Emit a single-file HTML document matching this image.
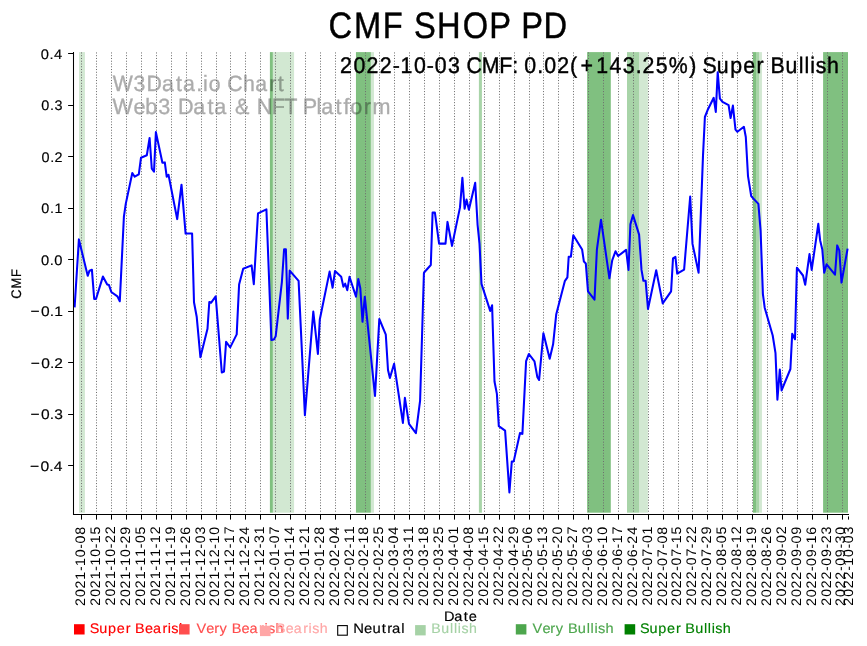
<!DOCTYPE html><html><head><meta charset="utf-8"><style>html,body{margin:0;padding:0;background:#fff;width:867px;height:646px;overflow:hidden}svg{display:block;font-family:"Liberation Sans",sans-serif;text-rendering:geometricPrecision;-webkit-font-smoothing:antialiased;will-change:transform}</style></head><body>
<svg width="867" height="646" viewBox="0 0 867 646">
<rect x="79.00" y="52.1" width="5.95" height="460.60" fill="#d2e8d2"/>
<rect x="269.90" y="52.1" width="3.00" height="460.60" fill="#80c080"/>
<rect x="272.90" y="52.1" width="21.20" height="460.60" fill="#d2e8d2"/>
<rect x="355.95" y="52.1" width="14.95" height="460.60" fill="#80c080"/>
<rect x="370.90" y="52.1" width="3.05" height="460.60" fill="#d2e8d2"/>
<rect x="478.90" y="52.1" width="3.00" height="460.60" fill="#a8d4a8"/>
<rect x="587.10" y="52.1" width="23.70" height="460.60" fill="#80c080"/>
<rect x="627.00" y="52.1" width="12.00" height="460.60" fill="#a8d4a8"/>
<rect x="639.00" y="52.1" width="8.90" height="460.60" fill="#d2e8d2"/>
<rect x="753.00" y="52.1" width="3.00" height="460.60" fill="#80c080"/>
<rect x="756.00" y="52.1" width="3.00" height="460.60" fill="#a8d4a8"/>
<rect x="759.00" y="52.1" width="2.95" height="460.60" fill="#d2e8d2"/>
<rect x="823.10" y="52.1" width="24.90" height="460.60" fill="#80c080"/>
<g opacity="0.33">
<text transform="translate(112.37 90.90) scale(0.963 1)" x="0.27 22.07 35.56 51.49 66.16 73.22 87.14 94.24 100.17 112.88 119.21 135.59 148.26 163.02 171.82" y="0" font-size="22.07" fill="#000"  stroke="#000" stroke-width="0.42">W3Data.io Chart</text>
<text transform="translate(112.37 114.00) scale(0.978 1)" x="0.11 21.58 33.63 47.00 59.96 67.02 82.73 97.23 104.12 117.56 125.39 140.93 147.74 163.05 175.63 188.50 194.73 208.66 213.63 228.13 236.32 243.34 257.07 265.91" y="0" font-size="22.07" fill="#000"  stroke="#000" stroke-width="0.42">Web3 Data &amp; NFT Platform</text>
</g>
<line x1="81.50" y1="52.1" x2="81.50" y2="513.5" stroke="#6e6e6e" stroke-width="1" stroke-dasharray="1.0417 1.7187" stroke-dashoffset="-0.33"/>
<line x1="96.50" y1="52.1" x2="96.50" y2="513.5" stroke="#6e6e6e" stroke-width="1" stroke-dasharray="1.0417 1.7187" stroke-dashoffset="-0.33"/>
<line x1="111.50" y1="52.1" x2="111.50" y2="513.5" stroke="#6e6e6e" stroke-width="1" stroke-dasharray="1.0417 1.7187" stroke-dashoffset="-0.33"/>
<line x1="126.50" y1="52.1" x2="126.50" y2="513.5" stroke="#6e6e6e" stroke-width="1" stroke-dasharray="1.0417 1.7187" stroke-dashoffset="-0.33"/>
<line x1="141.50" y1="52.1" x2="141.50" y2="513.5" stroke="#6e6e6e" stroke-width="1" stroke-dasharray="1.0417 1.7187" stroke-dashoffset="-0.33"/>
<line x1="156.50" y1="52.1" x2="156.50" y2="513.5" stroke="#6e6e6e" stroke-width="1" stroke-dasharray="1.0417 1.7187" stroke-dashoffset="-0.33"/>
<line x1="171.50" y1="52.1" x2="171.50" y2="513.5" stroke="#6e6e6e" stroke-width="1" stroke-dasharray="1.0417 1.7187" stroke-dashoffset="-0.33"/>
<line x1="186.50" y1="52.1" x2="186.50" y2="513.5" stroke="#6e6e6e" stroke-width="1" stroke-dasharray="1.0417 1.7187" stroke-dashoffset="-0.33"/>
<line x1="201.50" y1="52.1" x2="201.50" y2="513.5" stroke="#6e6e6e" stroke-width="1" stroke-dasharray="1.0417 1.7187" stroke-dashoffset="-0.33"/>
<line x1="216.50" y1="52.1" x2="216.50" y2="513.5" stroke="#6e6e6e" stroke-width="1" stroke-dasharray="1.0417 1.7187" stroke-dashoffset="-0.33"/>
<line x1="230.50" y1="52.1" x2="230.50" y2="513.5" stroke="#6e6e6e" stroke-width="1" stroke-dasharray="1.0417 1.7187" stroke-dashoffset="-0.33"/>
<line x1="245.50" y1="52.1" x2="245.50" y2="513.5" stroke="#6e6e6e" stroke-width="1" stroke-dasharray="1.0417 1.7187" stroke-dashoffset="-0.33"/>
<line x1="260.50" y1="52.1" x2="260.50" y2="513.5" stroke="#6e6e6e" stroke-width="1" stroke-dasharray="1.0417 1.7187" stroke-dashoffset="-0.33"/>
<line x1="275.50" y1="52.1" x2="275.50" y2="513.5" stroke="#6e6e6e" stroke-width="1" stroke-dasharray="1.0417 1.7187" stroke-dashoffset="-0.33"/>
<line x1="290.50" y1="52.1" x2="290.50" y2="513.5" stroke="#6e6e6e" stroke-width="1" stroke-dasharray="1.0417 1.7187" stroke-dashoffset="-0.33"/>
<line x1="305.50" y1="52.1" x2="305.50" y2="513.5" stroke="#6e6e6e" stroke-width="1" stroke-dasharray="1.0417 1.7187" stroke-dashoffset="-0.33"/>
<line x1="320.50" y1="52.1" x2="320.50" y2="513.5" stroke="#6e6e6e" stroke-width="1" stroke-dasharray="1.0417 1.7187" stroke-dashoffset="-0.33"/>
<line x1="335.50" y1="52.1" x2="335.50" y2="513.5" stroke="#6e6e6e" stroke-width="1" stroke-dasharray="1.0417 1.7187" stroke-dashoffset="-0.33"/>
<line x1="350.50" y1="52.1" x2="350.50" y2="513.5" stroke="#6e6e6e" stroke-width="1" stroke-dasharray="1.0417 1.7187" stroke-dashoffset="-0.33"/>
<line x1="365.50" y1="52.1" x2="365.50" y2="513.5" stroke="#6e6e6e" stroke-width="1" stroke-dasharray="1.0417 1.7187" stroke-dashoffset="-0.33"/>
<line x1="379.50" y1="52.1" x2="379.50" y2="513.5" stroke="#6e6e6e" stroke-width="1" stroke-dasharray="1.0417 1.7187" stroke-dashoffset="-0.33"/>
<line x1="394.50" y1="52.1" x2="394.50" y2="513.5" stroke="#6e6e6e" stroke-width="1" stroke-dasharray="1.0417 1.7187" stroke-dashoffset="-0.33"/>
<line x1="409.50" y1="52.1" x2="409.50" y2="513.5" stroke="#6e6e6e" stroke-width="1" stroke-dasharray="1.0417 1.7187" stroke-dashoffset="-0.33"/>
<line x1="424.50" y1="52.1" x2="424.50" y2="513.5" stroke="#6e6e6e" stroke-width="1" stroke-dasharray="1.0417 1.7187" stroke-dashoffset="-0.33"/>
<line x1="439.50" y1="52.1" x2="439.50" y2="513.5" stroke="#6e6e6e" stroke-width="1" stroke-dasharray="1.0417 1.7187" stroke-dashoffset="-0.33"/>
<line x1="454.50" y1="52.1" x2="454.50" y2="513.5" stroke="#6e6e6e" stroke-width="1" stroke-dasharray="1.0417 1.7187" stroke-dashoffset="-0.33"/>
<line x1="469.50" y1="52.1" x2="469.50" y2="513.5" stroke="#6e6e6e" stroke-width="1" stroke-dasharray="1.0417 1.7187" stroke-dashoffset="-0.33"/>
<line x1="484.50" y1="52.1" x2="484.50" y2="513.5" stroke="#6e6e6e" stroke-width="1" stroke-dasharray="1.0417 1.7187" stroke-dashoffset="-0.33"/>
<line x1="499.50" y1="52.1" x2="499.50" y2="513.5" stroke="#6e6e6e" stroke-width="1" stroke-dasharray="1.0417 1.7187" stroke-dashoffset="-0.33"/>
<line x1="514.50" y1="52.1" x2="514.50" y2="513.5" stroke="#6e6e6e" stroke-width="1" stroke-dasharray="1.0417 1.7187" stroke-dashoffset="-0.33"/>
<line x1="529.50" y1="52.1" x2="529.50" y2="513.5" stroke="#6e6e6e" stroke-width="1" stroke-dasharray="1.0417 1.7187" stroke-dashoffset="-0.33"/>
<line x1="543.50" y1="52.1" x2="543.50" y2="513.5" stroke="#6e6e6e" stroke-width="1" stroke-dasharray="1.0417 1.7187" stroke-dashoffset="-0.33"/>
<line x1="558.50" y1="52.1" x2="558.50" y2="513.5" stroke="#6e6e6e" stroke-width="1" stroke-dasharray="1.0417 1.7187" stroke-dashoffset="-0.33"/>
<line x1="573.50" y1="52.1" x2="573.50" y2="513.5" stroke="#6e6e6e" stroke-width="1" stroke-dasharray="1.0417 1.7187" stroke-dashoffset="-0.33"/>
<line x1="588.50" y1="52.1" x2="588.50" y2="513.5" stroke="#6e6e6e" stroke-width="1" stroke-dasharray="1.0417 1.7187" stroke-dashoffset="-0.33"/>
<line x1="603.50" y1="52.1" x2="603.50" y2="513.5" stroke="#6e6e6e" stroke-width="1" stroke-dasharray="1.0417 1.7187" stroke-dashoffset="-0.33"/>
<line x1="618.50" y1="52.1" x2="618.50" y2="513.5" stroke="#6e6e6e" stroke-width="1" stroke-dasharray="1.0417 1.7187" stroke-dashoffset="-0.33"/>
<line x1="633.50" y1="52.1" x2="633.50" y2="513.5" stroke="#6e6e6e" stroke-width="1" stroke-dasharray="1.0417 1.7187" stroke-dashoffset="-0.33"/>
<line x1="648.50" y1="52.1" x2="648.50" y2="513.5" stroke="#6e6e6e" stroke-width="1" stroke-dasharray="1.0417 1.7187" stroke-dashoffset="-0.33"/>
<line x1="663.50" y1="52.1" x2="663.50" y2="513.5" stroke="#6e6e6e" stroke-width="1" stroke-dasharray="1.0417 1.7187" stroke-dashoffset="-0.33"/>
<line x1="678.50" y1="52.1" x2="678.50" y2="513.5" stroke="#6e6e6e" stroke-width="1" stroke-dasharray="1.0417 1.7187" stroke-dashoffset="-0.33"/>
<line x1="692.50" y1="52.1" x2="692.50" y2="513.5" stroke="#6e6e6e" stroke-width="1" stroke-dasharray="1.0417 1.7187" stroke-dashoffset="-0.33"/>
<line x1="707.50" y1="52.1" x2="707.50" y2="513.5" stroke="#6e6e6e" stroke-width="1" stroke-dasharray="1.0417 1.7187" stroke-dashoffset="-0.33"/>
<line x1="722.50" y1="52.1" x2="722.50" y2="513.5" stroke="#6e6e6e" stroke-width="1" stroke-dasharray="1.0417 1.7187" stroke-dashoffset="-0.33"/>
<line x1="737.50" y1="52.1" x2="737.50" y2="513.5" stroke="#6e6e6e" stroke-width="1" stroke-dasharray="1.0417 1.7187" stroke-dashoffset="-0.33"/>
<line x1="752.50" y1="52.1" x2="752.50" y2="513.5" stroke="#6e6e6e" stroke-width="1" stroke-dasharray="1.0417 1.7187" stroke-dashoffset="-0.33"/>
<line x1="767.50" y1="52.1" x2="767.50" y2="513.5" stroke="#6e6e6e" stroke-width="1" stroke-dasharray="1.0417 1.7187" stroke-dashoffset="-0.33"/>
<line x1="782.50" y1="52.1" x2="782.50" y2="513.5" stroke="#6e6e6e" stroke-width="1" stroke-dasharray="1.0417 1.7187" stroke-dashoffset="-0.33"/>
<line x1="797.50" y1="52.1" x2="797.50" y2="513.5" stroke="#6e6e6e" stroke-width="1" stroke-dasharray="1.0417 1.7187" stroke-dashoffset="-0.33"/>
<line x1="812.50" y1="52.1" x2="812.50" y2="513.5" stroke="#6e6e6e" stroke-width="1" stroke-dasharray="1.0417 1.7187" stroke-dashoffset="-0.33"/>
<line x1="827.50" y1="52.1" x2="827.50" y2="513.5" stroke="#6e6e6e" stroke-width="1" stroke-dasharray="1.0417 1.7187" stroke-dashoffset="-0.33"/>
<line x1="842.50" y1="52.1" x2="842.50" y2="513.5" stroke="#6e6e6e" stroke-width="1" stroke-dasharray="1.0417 1.7187" stroke-dashoffset="-0.33"/>
<text transform="translate(339.54 72.90) scale(0.942 1)" x="0.46 14.75 28.59 42.65 56.50 64.85 78.97 92.60 101.01 115.08 128.45 134.90 151.08 169.48 183.29 188.43 196.14 209.89 217.23 231.07 244.68 255.90 272.43 286.67 300.62 314.37 321.49 335.72 349.58 371.30 378.78 385.41 400.52 414.69 428.50 442.70 450.56 457.63 473.43 487.36 493.51 499.65 505.44 517.43" y="0" font-size="22.62" fill="#000"  stroke="#000" stroke-width="0.42">2022-10-03 CMF: 0.02(+143.25%) Super Bullish</text>
<path d="M74.6 307.4 L78.9 239.4 L87.7 275.8 L89.5 270.6 L91.9 269.7 L94.2 299.0 L96.0 299.0 L102.9 276.6 L107.2 284.6 L109.0 285.1 L111.3 292.0 L117.4 296.3 L119.8 301.3 L123.9 216.7 L125.8 203.6 L132.3 173.0 L134.7 176.7 L138.8 174.3 L141.0 157.7 L146.8 155.3 L149.6 138.0 L151.8 168.7 L154.0 171.7 L155.9 132.1 L162.4 162.8 L164.8 162.4 L166.7 176.7 L168.5 174.8 L177.2 219.1 L181.5 184.7 L185.6 233.6 L192.1 233.5 L194.0 302.2 L196.7 316.7 L200.4 357.2 L207.5 328.8 L209.3 302.0 L211.0 302.8 L215.7 296.3 L221.8 372.5 L224.0 371.6 L226.1 341.8 L230.2 347.4 L236.7 334.4 L239.1 284.6 L243.2 268.8 L251.6 265.4 L253.8 284.2 L258.0 213.4 L266.4 209.3 L271.4 340.0 L273.9 339.4 L275.7 336.2 L281.9 281.8 L284.1 249.3 L285.9 249.3 L287.8 318.6 L289.7 270.6 L298.6 280.9 L304.9 415.2 L313.3 311.5 L317.9 353.9 L319.8 319.5 L329.6 271.6 L332.6 287.7 L335.0 271.1 L341.2 276.8 L343.4 286.8 L345.2 283.7 L347.3 290.2 L349.5 276.8 L356.0 296.7 L358.3 279.0 L360.3 288.3 L362.5 321.8 L364.8 296.7 L375.0 396.0 L378.7 330.0 L379.3 319.0 L385.8 334.7 L388.0 370.0 L389.9 378.0 L394.1 363.8 L402.9 422.9 L404.9 397.8 L409.0 423.9 L415.9 433.2 L420.1 400.6 L423.9 273.5 L424.1 272.5 L430.8 265.0 L432.6 212.6 L434.9 212.6 L439.1 243.6 L445.5 243.6 L447.5 221.9 L452.0 245.9 L460.0 207.4 L462.4 177.7 L464.6 208.7 L466.5 199.6 L468.9 209.8 L475.2 182.7 L477.6 225.0 L479.5 243.6 L481.5 283.9 L490.2 310.9 L492.1 305.3 L494.5 381.5 L496.9 393.9 L498.8 426.1 L505.1 430.6 L509.4 492.5 L511.8 461.4 L513.7 461.4 L520.0 433.0 L522.4 433.9 L526.1 361.1 L528.9 354.0 L534.5 361.4 L537.3 376.9 L539.1 380.0 L543.4 333.2 L549.7 358.8 L553.1 344.3 L556.2 314.6 L564.8 281.2 L567.4 277.4 L568.7 256.7 L570.9 256.7 L573.3 235.3 L582.1 249.5 L583.9 261.6 L585.8 263.4 L588.0 291.3 L594.5 299.7 L596.9 249.5 L601.0 219.7 L609.4 278.3 L612.2 260.3 L615.5 251.3 L618.1 256.0 L626.1 249.9 L628.5 269.9 L630.4 224.4 L633.0 215.1 L639.1 234.6 L641.5 269.9 L643.4 280.7 L645.6 280.7 L648.0 309.0 L656.2 270.3 L662.7 303.4 L671.1 291.3 L673.0 258.4 L675.4 256.9 L677.2 273.6 L684.1 269.6 L690.2 196.5 L692.5 243.9 L698.6 272.7 L703.0 155.6 L704.9 117.0 L708.0 109.2 L713.7 97.8 L715.8 111.9 L717.7 72.2 L719.9 98.7 L722.5 101.9 L728.6 105.2 L730.6 118.0 L732.9 105.6 L735.5 129.6 L737.4 131.8 L743.9 126.8 L745.8 137.0 L748.0 176.1 L751.2 196.0 L753.2 198.4 L758.4 203.9 L760.6 230.9 L762.9 294.1 L764.7 307.7 L772.7 335.5 L775.5 353.2 L777.4 399.7 L779.8 369.6 L781.6 390.4 L790.4 369.0 L792.2 333.7 L795.0 339.3 L796.9 267.7 L803.0 275.5 L805.2 284.8 L809.5 254.1 L811.7 269.9 L818.3 223.8 L820.1 240.2 L822.3 249.5 L824.2 272.7 L826.6 264.3 L835.0 274.6 L837.2 245.4 L839.3 250.4 L841.5 282.6 L847.6 248.6" fill="none" stroke="#0000ff" stroke-width="2.05" stroke-linejoin="round" stroke-linecap="butt"/>
<line x1="73.5" y1="52.0" x2="73.5" y2="515.0" stroke="#000" stroke-width="1.05"/>
<line x1="73.0" y1="514.5" x2="849.0" y2="514.5" stroke="#000" stroke-width="1.05"/>
<line x1="68.1" y1="465.50" x2="73.5" y2="465.50" stroke="#000" stroke-width="1.05"/>
<text transform="translate(28.85 470.67) scale(1.132 1)" x="1.07 10.30 18.11 22.08" y="0" font-size="13.83" fill="#000"  stroke="#000" stroke-width="0.18">−0.4</text>
<line x1="68.1" y1="414.50" x2="73.5" y2="414.50" stroke="#000" stroke-width="1.05"/>
<text transform="translate(29.20 419.20) scale(1.122 1)" x="1.12 10.43 18.30 22.25" y="0" font-size="13.83" fill="#000"  stroke="#000" stroke-width="0.18">−0.3</text>
<line x1="68.1" y1="362.50" x2="73.5" y2="362.50" stroke="#000" stroke-width="1.05"/>
<text transform="translate(29.48 367.72) scale(1.123 1)" x="1.12 10.41 18.27 22.09" y="0" font-size="13.83" fill="#000"  stroke="#000" stroke-width="0.18">−0.2</text>
<line x1="68.1" y1="311.50" x2="73.5" y2="311.50" stroke="#000" stroke-width="1.05"/>
<text transform="translate(29.34 316.25) scale(1.122 1)" x="1.12 10.44 18.31 22.20" y="0" font-size="13.83" fill="#000"  stroke="#000" stroke-width="0.18">−0.1</text>
<line x1="68.1" y1="259.50" x2="73.5" y2="259.50" stroke="#000" stroke-width="1.05"/>
<text transform="translate(40.63 264.77) scale(1.061 1)" x="0.28 8.49 12.77" y="0" font-size="13.83" fill="#000"  stroke="#000" stroke-width="0.18">0.0</text>
<line x1="68.1" y1="208.50" x2="73.5" y2="208.50" stroke="#000" stroke-width="1.05"/>
<text transform="translate(40.98 213.29) scale(1.039 1)" x="0.37 8.71 13.09" y="0" font-size="13.83" fill="#000"  stroke="#000" stroke-width="0.18">0.1</text>
<line x1="68.1" y1="156.50" x2="73.5" y2="156.50" stroke="#000" stroke-width="1.05"/>
<text transform="translate(41.12 161.82) scale(1.043 1)" x="0.35 8.67 12.93" y="0" font-size="13.83" fill="#000"  stroke="#000" stroke-width="0.18">0.2</text>
<line x1="68.1" y1="105.50" x2="73.5" y2="105.50" stroke="#000" stroke-width="1.05"/>
<text transform="translate(40.84 110.34) scale(1.042 1)" x="0.36 8.68 13.07" y="0" font-size="13.83" fill="#000"  stroke="#000" stroke-width="0.18">0.3</text>
<line x1="68.1" y1="53.50" x2="73.5" y2="53.50" stroke="#000" stroke-width="1.05"/>
<text transform="translate(40.49 58.87) scale(1.060 1)" x="0.29 8.50 12.86" y="0" font-size="13.83" fill="#000"  stroke="#000" stroke-width="0.18">0.4</text>
<line x1="81.50" y1="514.5" x2="81.50" y2="519.6" stroke="#000" stroke-width="1.05"/>
<text transform="translate(85.29 606.20) rotate(-90) scale(1.032 1)" x="0.22 8.83 17.18 25.75 34.03 39.04 47.55 55.79 60.84 69.32" y="0" font-size="13.83" fill="#000" >2021-10-08</text>
<line x1="96.50" y1="514.5" x2="96.50" y2="519.6" stroke="#000" stroke-width="1.05"/>
<text transform="translate(100.19 605.93) rotate(-90) scale(1.018 1)" x="0.28 9.01 17.47 26.16 34.53 39.63 48.26 56.59 61.69 70.29" y="0" font-size="13.83" fill="#000" >2021-10-15</text>
<line x1="111.50" y1="514.5" x2="111.50" y2="519.6" stroke="#000" stroke-width="1.05"/>
<text transform="translate(115.09 605.72) rotate(-90) scale(1.020 1)" x="0.27 8.98 17.42 26.09 34.44 39.53 48.14 56.45 61.44 70.02" y="0" font-size="13.83" fill="#000" >2021-10-22</text>
<line x1="126.50" y1="514.5" x2="126.50" y2="519.6" stroke="#000" stroke-width="1.05"/>
<text transform="translate(130.00 606.13) rotate(-90) scale(1.027 1)" x="0.24 8.89 17.27 25.88 34.19 39.23 47.78 56.04 60.99 69.64" y="0" font-size="13.83" fill="#000" >2021-10-29</text>
<line x1="141.50" y1="514.5" x2="141.50" y2="519.6" stroke="#000" stroke-width="1.05"/>
<text transform="translate(144.90 605.93) rotate(-90) scale(1.018 1)" x="0.28 9.01 17.47 26.16 34.53 39.63 48.23 56.59 61.73 70.29" y="0" font-size="13.83" fill="#000" >2021-11-05</text>
<line x1="156.50" y1="514.5" x2="156.50" y2="519.6" stroke="#000" stroke-width="1.05"/>
<text transform="translate(159.81 605.72) rotate(-90) scale(1.013 1)" x="0.30 9.07 17.56 26.30 34.69 39.82 48.46 56.85 61.99 70.52" y="0" font-size="13.83" fill="#000" >2021-11-12</text>
<line x1="171.50" y1="514.5" x2="171.50" y2="519.6" stroke="#000" stroke-width="1.05"/>
<text transform="translate(174.71 606.13) rotate(-90) scale(1.021 1)" x="0.27 8.98 17.41 26.08 34.43 39.51 48.08 56.43 61.52 70.13" y="0" font-size="13.83" fill="#000" >2021-11-19</text>
<line x1="186.50" y1="514.5" x2="186.50" y2="519.6" stroke="#000" stroke-width="1.05"/>
<text transform="translate(189.62 606.27) rotate(-90) scale(1.023 1)" x="0.26 8.95 17.37 26.01 34.35 39.42 47.97 56.30 61.28 69.99" y="0" font-size="13.83" fill="#000" >2021-11-26</text>
<line x1="201.50" y1="514.5" x2="201.50" y2="519.6" stroke="#000" stroke-width="1.05"/>
<text transform="translate(204.52 605.99) rotate(-90) scale(1.020 1)" x="0.27 8.98 17.42 26.09 34.44 39.53 48.01 56.46 61.59 70.16" y="0" font-size="13.83" fill="#000" >2021-12-03</text>
<line x1="216.50" y1="514.5" x2="216.50" y2="519.6" stroke="#000" stroke-width="1.05"/>
<text transform="translate(219.43 606.20) rotate(-90) scale(1.019 1)" x="0.28 8.99 17.44 26.12 34.48 39.57 48.06 56.51 61.61 70.23" y="0" font-size="13.83" fill="#000" >2021-12-10</text>
<line x1="230.50" y1="514.5" x2="230.50" y2="519.6" stroke="#000" stroke-width="1.05"/>
<text transform="translate(234.33 605.93) rotate(-90) scale(1.017 1)" x="0.28 9.02 17.49 26.19 34.56 39.67 48.18 56.65 61.76 70.40" y="0" font-size="13.83" fill="#000" >2021-12-17</text>
<line x1="245.50" y1="514.5" x2="245.50" y2="519.6" stroke="#000" stroke-width="1.05"/>
<text transform="translate(249.24 606.34) rotate(-90) scale(1.020 1)" x="0.27 8.98 17.42 26.10 34.45 39.53 48.01 56.46 61.45 70.23" y="0" font-size="13.83" fill="#000" >2021-12-24</text>
<line x1="260.50" y1="514.5" x2="260.50" y2="519.6" stroke="#000" stroke-width="1.05"/>
<text transform="translate(264.14 605.86) rotate(-90) scale(1.014 1)" x="0.30 9.05 17.54 26.27 34.65 39.78 48.31 56.79 61.96 70.54" y="0" font-size="13.83" fill="#000" >2021-12-31</text>
<line x1="275.50" y1="514.5" x2="275.50" y2="519.6" stroke="#000" stroke-width="1.05"/>
<text transform="translate(279.05 605.93) rotate(-90) scale(1.028 1)" x="0.24 8.88 17.25 25.76 34.15 39.23 47.70 55.99 61.07 69.58" y="0" font-size="13.83" fill="#000" >2022-01-07</text>
<line x1="290.50" y1="514.5" x2="290.50" y2="519.6" stroke="#000" stroke-width="1.05"/>
<text transform="translate(293.95 606.34) rotate(-90) scale(1.025 1)" x="0.25 8.92 17.33 25.87 34.28 39.38 47.88 56.20 61.26 69.90" y="0" font-size="13.83" fill="#000" >2022-01-14</text>
<line x1="305.50" y1="514.5" x2="305.50" y2="519.6" stroke="#000" stroke-width="1.05"/>
<text transform="translate(308.86 605.86) rotate(-90) scale(1.020 1)" x="0.27 8.98 17.42 25.99 34.44 39.57 48.10 56.45 61.44 70.11" y="0" font-size="13.83" fill="#000" >2022-01-21</text>
<line x1="320.50" y1="514.5" x2="320.50" y2="519.6" stroke="#000" stroke-width="1.05"/>
<text transform="translate(323.76 606.20) rotate(-90) scale(1.028 1)" x="0.24 8.88 17.25 25.76 34.15 39.22 47.69 55.99 60.93 69.57" y="0" font-size="13.83" fill="#000" >2022-01-28</text>
<line x1="335.50" y1="514.5" x2="335.50" y2="519.6" stroke="#000" stroke-width="1.05"/>
<text transform="translate(338.66 606.34) rotate(-90) scale(1.031 1)" x="0.23 8.84 17.19 25.68 34.05 39.10 47.46 55.83 60.88 69.44" y="0" font-size="13.83" fill="#000" >2022-02-04</text>
<line x1="350.50" y1="514.5" x2="350.50" y2="519.6" stroke="#000" stroke-width="1.05"/>
<text transform="translate(353.57 605.86) rotate(-90) scale(1.020 1)" x="0.27 8.98 17.42 25.99 34.44 39.57 48.01 56.45 61.54 70.11" y="0" font-size="13.83" fill="#000" >2022-02-11</text>
<line x1="365.50" y1="514.5" x2="365.50" y2="519.6" stroke="#000" stroke-width="1.05"/>
<text transform="translate(368.47 606.20) rotate(-90) scale(1.028 1)" x="0.24 8.88 17.25 25.76 34.15 39.22 47.60 55.99 61.02 69.57" y="0" font-size="13.83" fill="#000" >2022-02-18</text>
<line x1="379.50" y1="514.5" x2="379.50" y2="519.6" stroke="#000" stroke-width="1.05"/>
<text transform="translate(383.38 605.93) rotate(-90) scale(1.021 1)" x="0.27 8.97 17.40 25.97 34.41 39.53 47.97 56.41 61.39 70.06" y="0" font-size="13.83" fill="#000" >2022-02-25</text>
<line x1="394.50" y1="514.5" x2="394.50" y2="519.6" stroke="#000" stroke-width="1.05"/>
<text transform="translate(398.28 606.34) rotate(-90) scale(1.031 1)" x="0.23 8.85 17.20 25.68 34.06 39.11 47.60 55.84 60.89 69.45" y="0" font-size="13.83" fill="#000" >2022-03-04</text>
<line x1="409.50" y1="514.5" x2="409.50" y2="519.6" stroke="#000" stroke-width="1.05"/>
<text transform="translate(413.19 605.86) rotate(-90) scale(1.020 1)" x="0.27 8.98 17.42 26.00 34.44 39.57 48.15 56.46 61.55 70.12" y="0" font-size="13.83" fill="#000" >2022-03-11</text>
<line x1="424.50" y1="514.5" x2="424.50" y2="519.6" stroke="#000" stroke-width="1.05"/>
<text transform="translate(428.09 606.20) rotate(-90) scale(1.028 1)" x="0.24 8.88 17.26 25.76 34.16 39.23 47.74 56.00 61.03 69.58" y="0" font-size="13.83" fill="#000" >2022-03-18</text>
<line x1="439.50" y1="514.5" x2="439.50" y2="519.6" stroke="#000" stroke-width="1.05"/>
<text transform="translate(443.00 605.93) rotate(-90) scale(1.021 1)" x="0.27 8.97 17.41 25.97 34.42 39.54 48.11 56.41 61.40 70.07" y="0" font-size="13.83" fill="#000" >2022-03-25</text>
<line x1="454.50" y1="514.5" x2="454.50" y2="519.6" stroke="#000" stroke-width="1.05"/>
<text transform="translate(457.90 605.86) rotate(-90) scale(1.030 1)" x="0.23 8.86 17.21 25.71 34.08 39.15 47.71 55.88 60.95 69.40" y="0" font-size="13.83" fill="#000" >2022-04-01</text>
<line x1="469.50" y1="514.5" x2="469.50" y2="519.6" stroke="#000" stroke-width="1.05"/>
<text transform="translate(472.81 606.20) rotate(-90) scale(1.038 1)" x="0.20 8.76 17.06 25.48 33.81 38.82 47.32 55.44 60.46 68.88" y="0" font-size="13.83" fill="#000" >2022-04-08</text>
<line x1="484.50" y1="514.5" x2="484.50" y2="519.6" stroke="#000" stroke-width="1.05"/>
<text transform="translate(487.71 605.93) rotate(-90) scale(1.024 1)" x="0.25 8.93 17.33 25.87 34.29 39.39 48.00 56.21 61.28 69.82" y="0" font-size="13.83" fill="#000" >2022-04-15</text>
<line x1="499.50" y1="514.5" x2="499.50" y2="519.6" stroke="#000" stroke-width="1.05"/>
<text transform="translate(502.62 605.72) rotate(-90) scale(1.027 1)" x="0.25 8.90 17.29 25.81 34.21 39.29 47.88 56.08 61.03 69.55" y="0" font-size="13.83" fill="#000" >2022-04-22</text>
<line x1="514.50" y1="514.5" x2="514.50" y2="519.6" stroke="#000" stroke-width="1.05"/>
<text transform="translate(517.52 606.13) rotate(-90) scale(1.034 1)" x="0.22 8.81 17.14 25.61 33.96 39.00 47.53 55.69 60.60 69.19" y="0" font-size="13.83" fill="#000" >2022-04-29</text>
<line x1="529.50" y1="514.5" x2="529.50" y2="519.6" stroke="#000" stroke-width="1.05"/>
<text transform="translate(532.43 606.27) rotate(-90) scale(1.034 1)" x="0.22 8.81 17.14 25.61 33.96 39.00 47.43 55.69 60.72 69.22" y="0" font-size="13.83" fill="#000" >2022-05-06</text>
<line x1="543.50" y1="514.5" x2="543.50" y2="519.6" stroke="#000" stroke-width="1.05"/>
<text transform="translate(547.33 605.99) rotate(-90) scale(1.020 1)" x="0.27 8.98 17.43 26.01 34.45 39.58 48.13 56.47 61.56 70.18" y="0" font-size="13.83" fill="#000" >2022-05-13</text>
<line x1="558.50" y1="514.5" x2="558.50" y2="519.6" stroke="#000" stroke-width="1.05"/>
<text transform="translate(562.24 606.20) rotate(-90) scale(1.026 1)" x="0.25 8.91 17.31 25.84 34.25 39.34 47.84 56.15 61.10 69.77" y="0" font-size="13.83" fill="#000" >2022-05-20</text>
<line x1="573.50" y1="514.5" x2="573.50" y2="519.6" stroke="#000" stroke-width="1.05"/>
<text transform="translate(577.14 605.93) rotate(-90) scale(1.023 1)" x="0.26 8.94 17.35 25.90 34.33 39.43 47.95 56.27 61.24 69.92" y="0" font-size="13.83" fill="#000" >2022-05-27</text>
<line x1="588.50" y1="514.5" x2="588.50" y2="519.6" stroke="#000" stroke-width="1.05"/>
<text transform="translate(592.04 605.99) rotate(-90) scale(1.035 1)" x="0.21 8.80 17.12 25.57 33.92 38.95 47.44 55.62 60.65 69.11" y="0" font-size="13.83" fill="#000" >2022-06-03</text>
<line x1="603.50" y1="514.5" x2="603.50" y2="519.6" stroke="#000" stroke-width="1.05"/>
<text transform="translate(606.95 606.20) rotate(-90) scale(1.034 1)" x="0.22 8.81 17.14 25.59 33.95 38.98 47.48 55.66 60.66 69.16" y="0" font-size="13.83" fill="#000" >2022-06-10</text>
<line x1="618.50" y1="514.5" x2="618.50" y2="519.6" stroke="#000" stroke-width="1.05"/>
<text transform="translate(621.85 605.93) rotate(-90) scale(1.032 1)" x="0.22 8.83 17.18 25.66 34.02 39.07 47.58 55.78 60.79 69.31" y="0" font-size="13.83" fill="#000" >2022-06-17</text>
<line x1="633.50" y1="514.5" x2="633.50" y2="519.6" stroke="#000" stroke-width="1.05"/>
<text transform="translate(636.76 606.34) rotate(-90) scale(1.035 1)" x="0.21 8.80 17.12 25.57 33.92 38.95 47.44 55.62 60.52 69.18" y="0" font-size="13.83" fill="#000" >2022-06-24</text>
<line x1="648.50" y1="514.5" x2="648.50" y2="519.6" stroke="#000" stroke-width="1.05"/>
<text transform="translate(651.66 605.86) rotate(-90) scale(1.028 1)" x="0.24 8.88 17.25 25.76 34.15 39.23 47.74 55.99 61.07 69.54" y="0" font-size="13.83" fill="#000" >2022-07-01</text>
<line x1="663.50" y1="514.5" x2="663.50" y2="519.6" stroke="#000" stroke-width="1.05"/>
<text transform="translate(666.57 606.20) rotate(-90) scale(1.036 1)" x="0.21 8.78 17.09 25.53 33.87 38.90 47.34 55.55 60.57 69.01" y="0" font-size="13.83" fill="#000" >2022-07-08</text>
<line x1="678.50" y1="514.5" x2="678.50" y2="519.6" stroke="#000" stroke-width="1.05"/>
<text transform="translate(681.47 605.93) rotate(-90) scale(1.022 1)" x="0.26 8.95 17.38 25.93 34.36 39.48 48.03 56.33 61.40 69.97" y="0" font-size="13.83" fill="#000" >2022-07-15</text>
<line x1="692.50" y1="514.5" x2="692.50" y2="519.6" stroke="#000" stroke-width="1.05"/>
<text transform="translate(696.38 605.72) rotate(-90) scale(1.025 1)" x="0.25 8.92 17.33 25.86 34.28 39.38 47.91 56.19 61.16 69.69" y="0" font-size="13.83" fill="#000" >2022-07-22</text>
<line x1="707.50" y1="514.5" x2="707.50" y2="519.6" stroke="#000" stroke-width="1.05"/>
<text transform="translate(711.28 606.13) rotate(-90) scale(1.032 1)" x="0.23 8.84 17.18 25.66 34.03 39.08 47.56 55.79 60.71 69.33" y="0" font-size="13.83" fill="#000" >2022-07-29</text>
<line x1="722.50" y1="514.5" x2="722.50" y2="519.6" stroke="#000" stroke-width="1.05"/>
<text transform="translate(726.19 605.93) rotate(-90) scale(1.033 1)" x="0.22 8.83 17.17 25.64 34.00 39.05 47.52 55.75 60.80 69.24" y="0" font-size="13.83" fill="#000" >2022-08-05</text>
<line x1="737.50" y1="514.5" x2="737.50" y2="519.6" stroke="#000" stroke-width="1.05"/>
<text transform="translate(741.09 605.72) rotate(-90) scale(1.028 1)" x="0.24 8.88 17.25 25.76 34.15 39.22 47.73 55.99 61.02 69.44" y="0" font-size="13.83" fill="#000" >2022-08-12</text>
<line x1="752.50" y1="514.5" x2="752.50" y2="519.6" stroke="#000" stroke-width="1.05"/>
<text transform="translate(756.00 606.13) rotate(-90) scale(1.035 1)" x="0.21 8.79 17.11 25.56 33.90 38.93 47.38 55.59 60.58 69.07" y="0" font-size="13.83" fill="#000" >2022-08-19</text>
<line x1="767.50" y1="514.5" x2="767.50" y2="519.6" stroke="#000" stroke-width="1.05"/>
<text transform="translate(770.90 606.27) rotate(-90) scale(1.038 1)" x="0.20 8.77 17.07 25.50 33.83 38.84 47.27 55.47 60.35 68.95" y="0" font-size="13.83" fill="#000" >2022-08-26</text>
<line x1="782.50" y1="514.5" x2="782.50" y2="519.6" stroke="#000" stroke-width="1.05"/>
<text transform="translate(785.81 605.72) rotate(-90) scale(1.034 1)" x="0.22 8.81 17.14 25.60 33.95 38.99 47.45 55.67 60.71 69.04" y="0" font-size="13.83" fill="#000" >2022-09-02</text>
<line x1="797.50" y1="514.5" x2="797.50" y2="519.6" stroke="#000" stroke-width="1.05"/>
<text transform="translate(800.71 606.13) rotate(-90) scale(1.041 1)" x="0.19 8.72 17.00 25.40 33.71 38.70 47.11 55.29 60.28 68.69" y="0" font-size="13.83" fill="#000" >2022-09-09</text>
<line x1="812.50" y1="514.5" x2="812.50" y2="519.6" stroke="#000" stroke-width="1.05"/>
<text transform="translate(815.62 606.27) rotate(-90) scale(1.037 1)" x="0.21 8.78 17.08 25.52 33.86 38.88 47.32 55.52 60.50 69.01" y="0" font-size="13.83" fill="#000" >2022-09-16</text>
<line x1="827.50" y1="514.5" x2="827.50" y2="519.6" stroke="#000" stroke-width="1.05"/>
<text transform="translate(830.52 605.99) rotate(-90) scale(1.029 1)" x="0.24 8.87 17.23 25.73 34.12 39.19 47.69 55.94 60.87 69.51" y="0" font-size="13.83" fill="#000" >2022-09-23</text>
<line x1="842.50" y1="514.5" x2="842.50" y2="519.6" stroke="#000" stroke-width="1.05"/>
<text transform="translate(845.42 606.20) rotate(-90) scale(1.034 1)" x="0.22 8.81 17.14 25.61 33.96 39.00 47.46 55.69 60.73 69.19" y="0" font-size="13.83" fill="#000" >2022-09-30</text>
<line x1="848.50" y1="516.4" x2="848.50" y2="519.6" stroke="#000" stroke-width="1.05"/>
<text transform="translate(853.20 605.99) rotate(-90) scale(1.026 1)" x="0.25 8.91 17.31 25.83 34.24 39.29 47.86 56.14 61.23 69.76" y="0" font-size="13.83" fill="#000" >2022-10-03</text>
<text transform="translate(443.81 620.50) scale(1.053 1)" x="0.12 9.86 18.87 23.69" y="0" font-size="13.83" fill="#000"  stroke="#000" stroke-width="0.18">Date</text>
<text transform="translate(20.70 298.76) rotate(-90) scale(0.937 1)" x="0.10 11.02 23.24" y="0" font-size="13.83" fill="#000"  stroke="#000" stroke-width="0.18">CMF</text>
<text transform="translate(328.39 37.50) scale(0.888 1)" x="0.16 28.93 61.17 83.50 96.29 122.24 151.20 181.19 204.45 217.18 242.39" y="0" font-size="36.79" fill="#000"  stroke="#000" stroke-width="0.45">CMF SHOP PD</text>
<rect x="74.00" y="624.20" width="10.6" height="10.3" fill="#ff0000"/>
<text transform="translate(90.00 632.80) scale(1.042 1)" x="-0.30 8.82 17.36 25.70 34.28 39.05 43.25 52.76 60.39 69.51 74.63 78.10 85.33" y="0" font-size="13.83" fill="#ff0000"  stroke="#ff0000" stroke-width="0.15">Super Bearish</text>
<rect x="179.00" y="624.20" width="10.6" height="10.3" fill="#ff4d4d"/>
<text transform="translate(196.46 632.80) scale(1.051 1)" x="-0.07 9.33 16.82 21.98 29.40 33.52 42.96 50.51 59.57 64.66 68.08 75.24" y="0" font-size="13.83" fill="#ff4d4d"  stroke="#ff4d4d" stroke-width="0.15">Very Bearish</text>
<rect x="260.00" y="625.80" width="10.6" height="10.3" fill="#ffa6a6"/>
<text transform="translate(275.91 632.80) scale(1.026 1)" x="0.03 9.68 17.42 26.66 31.85 35.40 42.74" y="0" font-size="13.83" fill="#ffa6a6"  stroke="#ffa6a6" stroke-width="0.15">Bearish</text>
<rect x="337.70" y="625.60" width="9.6" height="9.6" fill="#fff" stroke="#000" stroke-width="1.1"/>
<text transform="translate(353.41 632.80) scale(1.071 1)" x="-0.11 9.92 17.94 26.50 31.61 35.98 44.58" y="0" font-size="13.83" fill="#000000"  stroke="#000000" stroke-width="0.15">Neutral</text>
<rect x="415.10" y="625.10" width="10.6" height="10.3" fill="#a6d2a6"/>
<text transform="translate(431.31 632.80) scale(1.023 1)" x="0.05 9.75 18.29 22.07 25.84 29.40 36.77" y="0" font-size="13.83" fill="#a6d2a6"  stroke="#a6d2a6" stroke-width="0.15">Bullish</text>
<rect x="515.80" y="624.20" width="10.6" height="10.3" fill="#4da64d"/>
<text transform="translate(532.66 632.80) scale(1.054 1)" x="-0.08 9.30 16.77 21.92 29.33 33.43 42.88 51.25 54.91 58.57 61.98 69.13" y="0" font-size="13.83" fill="#4da64d"  stroke="#4da64d" stroke-width="0.15">Very Bullish</text>
<rect x="624.60" y="624.20" width="10.6" height="10.3" fill="#008000"/>
<text transform="translate(640.20 632.80) scale(1.043 1)" x="-0.30 8.81 17.34 25.67 34.24 39.02 43.21 52.75 61.17 64.87 68.57 72.04 79.26" y="0" font-size="13.83" fill="#008000"  stroke="#008000" stroke-width="0.15">Super Bullish</text>
</svg></body></html>
